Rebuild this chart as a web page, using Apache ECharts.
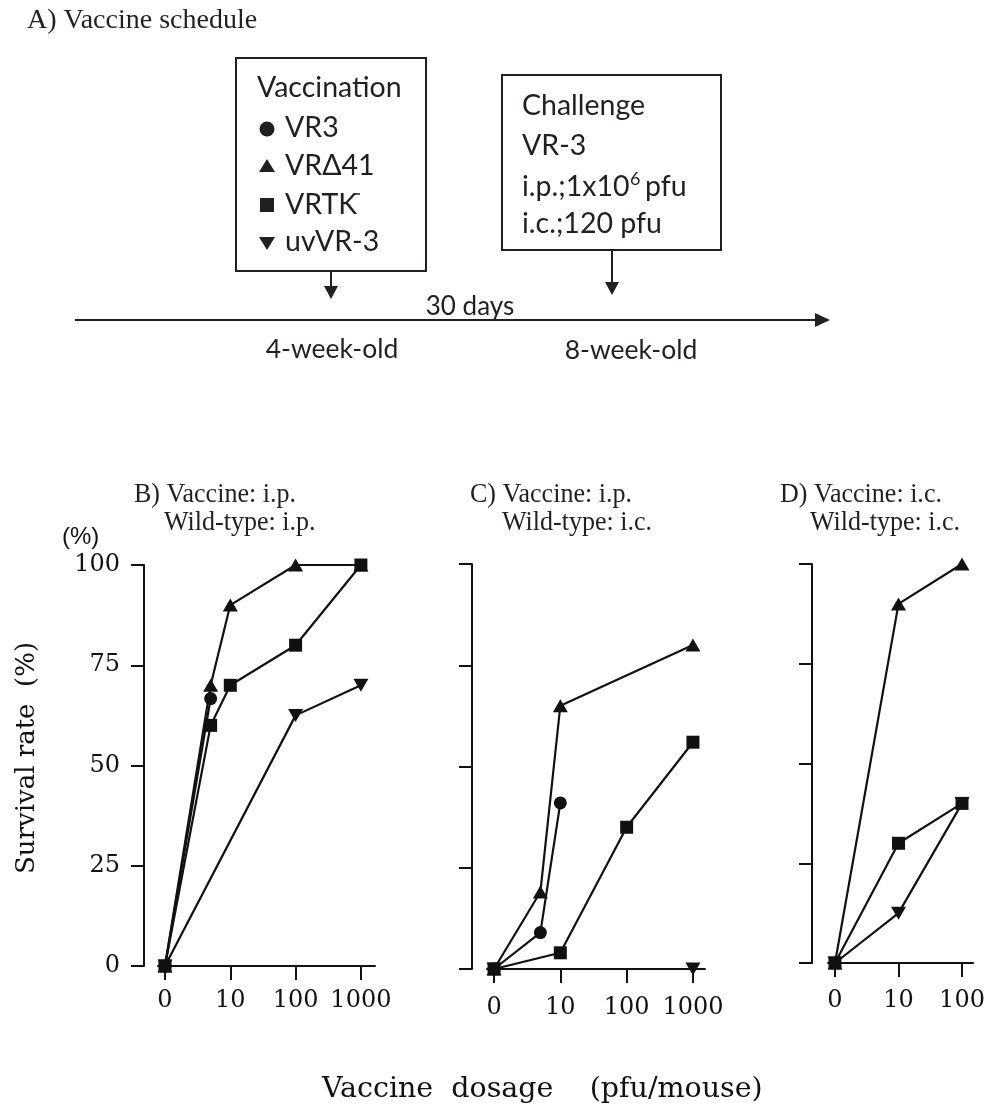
<!DOCTYPE html>
<html>
<head>
    <meta charset="UTF-8">
    <title>Vaccine schedule and survival</title>
    <script src="https://cdn.jsdelivr.net/npm/echarts@6/dist/echarts.min.js"></script>
</head>
<body style="margin:0; background:#fff;">
<div id="main" style="width:995px; height:1106px;"></div>
<script>
    // x tick labels (dose, pfu/mouse)
    var doseTicks = [0, 10, 100, 1000];

    // survival rate (%), pairs of [dose, survival]
    // B) vaccine i.p. / wild-type i.p.
    var bVR3 = [[0, 0], [5, 66.7]];
    var bVRd41 = [[0, 0], [5, 70], [10, 90], [100, 100], [1000, 100]];
    var bVRTK = [[0, 0], [5, 60], [10, 70], [100, 80], [1000, 100]];
    var bUvVR3 = [[0, 0], [100, 62.5], [1000, 70]];

    // C) vaccine i.p. / wild-type i.c.
    var cVR3 = [[0, 0], [5, 9], [10, 41]];
    var cVRd41 = [[0, 0], [5, 19], [10, 65], [1000, 80]];
    var cVRTK = [[0, 0], [10, 4], [100, 35], [1000, 56]];
    var cUvVR3 = [[0, 0], [1000, 0]];

    // D) vaccine i.c. / wild-type i.c.
    var dVRd41 = [[0, 0], [10, 90], [100, 100]];
    var dVRTK = [[0, 0], [10, 30], [100, 40]];
    var dUvVR3 = [[0, 0], [10, 12.5], [100, 40]];

    var ink = '#111';
    var txt = '#231f20';
    var serifNum = 'DejaVu Serif';

    // 0 sits at the origin, other doses on a log10 position
    function pos(d) {
        return d === 0 ? 0 : Math.log10(d);
    }
    function toXY(arr) {
        return arr.map(function (p) { return [pos(p[0]), p[1]]; });
    }

    // panel layout
    var panels = [
        {left: 158, top: 565, width: 217, height: 401, off: 14, min: -0.107, max: 3.216, ticks: [0, 1, 2, 3], yLabels: true, xMargin: 23,
            series: [bUvVR3, bVR3, bVRd41, bVRTK]},
        {left: 487, top: 564, width: 218, height: 405, off: 15, min: -0.106, max: 3.182, ticks: [0, 1, 2, 3], yLabels: false, xMargin: 27,
            series: [cUvVR3, cVR3, cVRd41, cVRTK]},
        {left: 828, top: 564, width: 145, height: 399, off: 16, min: -0.11, max: 2.173, ticks: [0, 1, 2], yLabels: false, xMargin: 26,
            series: [dUvVR3, null, dVRd41, dVRTK]}
    ];

    var markers = [
        {symbol: 'triangle', size: [15, 13], rotate: 180},
        {symbol: 'circle', size: 13, rotate: 0},
        {symbol: 'triangle', size: [15, 13], rotate: 0},
        {symbol: 'rect', size: 13, rotate: 0}
    ];

    var grid = [], xAxis = [], yAxis = [], series = [];
    panels.forEach(function (p, i) {
        grid.push({left: p.left, top: p.top, width: p.width, height: p.height});
        xAxis.push({
            type: 'value', gridIndex: i, min: p.min, max: p.max,
            axisLine: {show: true, onZero: false, lineStyle: {color: ink, width: 2}},
            axisTick: {show: true, customValues: p.ticks, length: 14, lineStyle: {color: ink, width: 2}},
            axisLabel: {
                customValues: p.ticks, margin: p.xMargin, color: ink,
                fontFamily: serifNum, fontSize: 24,
                formatter: function (v) { return String(doseTicks[Math.round(v)]); }
            },
            splitLine: {show: false}
        });
        yAxis.push({
            type: 'value', gridIndex: i, min: 0, max: 100, interval: 25, offset: p.off,
            axisLine: {show: true, onZero: false, lineStyle: {color: ink, width: 2}},
            axisTick: {show: true, length: 13, lineStyle: {color: ink, width: 2}},
            axisLabel: {show: p.yLabels, margin: 24, color: ink, fontFamily: serifNum, fontSize: 24},
            splitLine: {show: false}
        });
        p.series.forEach(function (d, k) {
            if (!d) return;
            var m = markers[k];
            series.push({
                type: 'line', xAxisIndex: i, yAxisIndex: i,
                data: toXY(d),
                symbol: m.symbol, symbolSize: m.size, symbolRotate: m.rotate,
                showAllSymbol: true,
                lineStyle: {color: ink, width: 2.2},
                itemStyle: {color: ink},
                emphasis: {disabled: true},
                silent: true, z: 2 + k
            });
        });
    });

    // schedule diagram (A)
    var boxText = {fill: txt, fontFamily: 'Lato', fontSize: 28.5, verticalAlign: 'middle', textVerticalAlign: 'middle'};
    function t(x, y, s, extra, sx) {
        var st = Object.assign({text: s, x: 0, y: 0}, boxText, extra || {});
        return {type: 'text', x: x, y: y, scaleX: sx || 1, style: st, silent: true};
    }
    var titleFont = {fontFamily: 'Liberation Serif', fontSize: 28};
    var graphic = [
        t(27, 21, 'A) Vaccine schedule', {fontFamily: 'Liberation Serif', fontSize: 28}),
        {type: 'rect', shape: {x: 236, y: 58, width: 190, height: 213}, style: {fill: 'none', stroke: txt, lineWidth: 2}},
        t(257, 88, 'Vaccination'),
        {type: 'circle', shape: {cx: 267, cy: 129, r: 7.5}, style: {fill: txt}},
        t(285, 128, 'VR3'),
        {type: 'polygon', shape: {points: [[267, 159], [259, 172], [275, 172]]}, style: {fill: txt}},
        t(285, 166, 'VR\u039441'),
        {type: 'rect', shape: {x: 260, y: 198, width: 14, height: 14}, style: {fill: txt}},
        t(285, 205, 'VRTK'),
        {type: 'line', shape: {x1: 355, y1: 194, x2: 360, y2: 194}, style: {stroke: txt, lineWidth: 1.5}},
        {type: 'polygon', shape: {points: [[259, 237], [275, 237], [267, 250]]}, style: {fill: txt}},
        t(285, 242, 'uvVR-3'),
        {type: 'line', shape: {x1: 331, y1: 271, x2: 331, y2: 290}, style: {stroke: txt, lineWidth: 2}},
        {type: 'polygon', shape: {points: [[324, 286], [338, 286], [331, 299]]}, style: {fill: txt}},

        {type: 'rect', shape: {x: 502, y: 75, width: 219, height: 175}, style: {fill: 'none', stroke: txt, lineWidth: 2}},
        t(522, 106, 'Challenge'),
        t(522, 146, 'VR-3'),
        t(522, 187, 'i.p.;1x10'),
        t(630, 179, '6', {fontSize: 18}),
        t(645, 187, 'pfu'),
        t(522, 224, 'i.c.;120 pfu'),
        {type: 'line', shape: {x1: 612, y1: 250, x2: 612, y2: 285}, style: {stroke: txt, lineWidth: 2}},
        {type: 'polygon', shape: {points: [[605, 282], [619, 282], [612, 295]]}, style: {fill: txt}},

        {type: 'line', shape: {x1: 75, y1: 320, x2: 818, y2: 320}, style: {stroke: txt, lineWidth: 2}},
        {type: 'polygon', shape: {points: [[815, 313], [830, 320], [815, 327]]}, style: {fill: txt}},
        t(470, 307, '30 days', {align: 'center', textAlign: 'center', fontSize: 26}),
        t(332, 349, '4-week-old', {align: 'center', textAlign: 'center', fontSize: 26.5}),
        t(631, 350, '8-week-old', {align: 'center', textAlign: 'center', fontSize: 26.5}),

        // panel titles
        t(134, 495, 'B) Vaccine: i.p.', titleFont, 0.93),
        t(164, 523, 'Wild-type: i.p.', titleFont, 0.93),
        t(470, 495, 'C) Vaccine: i.p.', titleFont, 0.93),
        t(502, 523, 'Wild-type: i.c.', titleFont, 0.93),
        t(780, 495, 'D) Vaccine: i.c.', titleFont, 0.93),
        t(810, 523, 'Wild-type: i.c.', titleFont, 0.93),

        t(62, 537, '(%)', {fontFamily: 'Liberation Sans', fontSize: 24, fill: ink}),
        {type: 'text', x: 27, y: 758, rotation: Math.PI / 2,
            style: {text: 'Survival rate  (%)', fill: ink, fontFamily: serifNum, fontSize: 26,
                align: 'center', textAlign: 'center', verticalAlign: 'middle', textVerticalAlign: 'middle'}},
        t(322, 1090, 'Vaccine  dosage    (pfu/mouse)', {fontFamily: serifNum, fontSize: 28.5, fill: ink})
    ];

    var chart = echarts.init(document.getElementById('main'), null, {renderer: 'canvas'});
    chart.setOption({
        backgroundColor: '#fff',
        animation: false,
        grid: grid,
        xAxis: xAxis,
        yAxis: yAxis,
        series: series,
        graphic: graphic
    });
</script>
</body>
</html>
